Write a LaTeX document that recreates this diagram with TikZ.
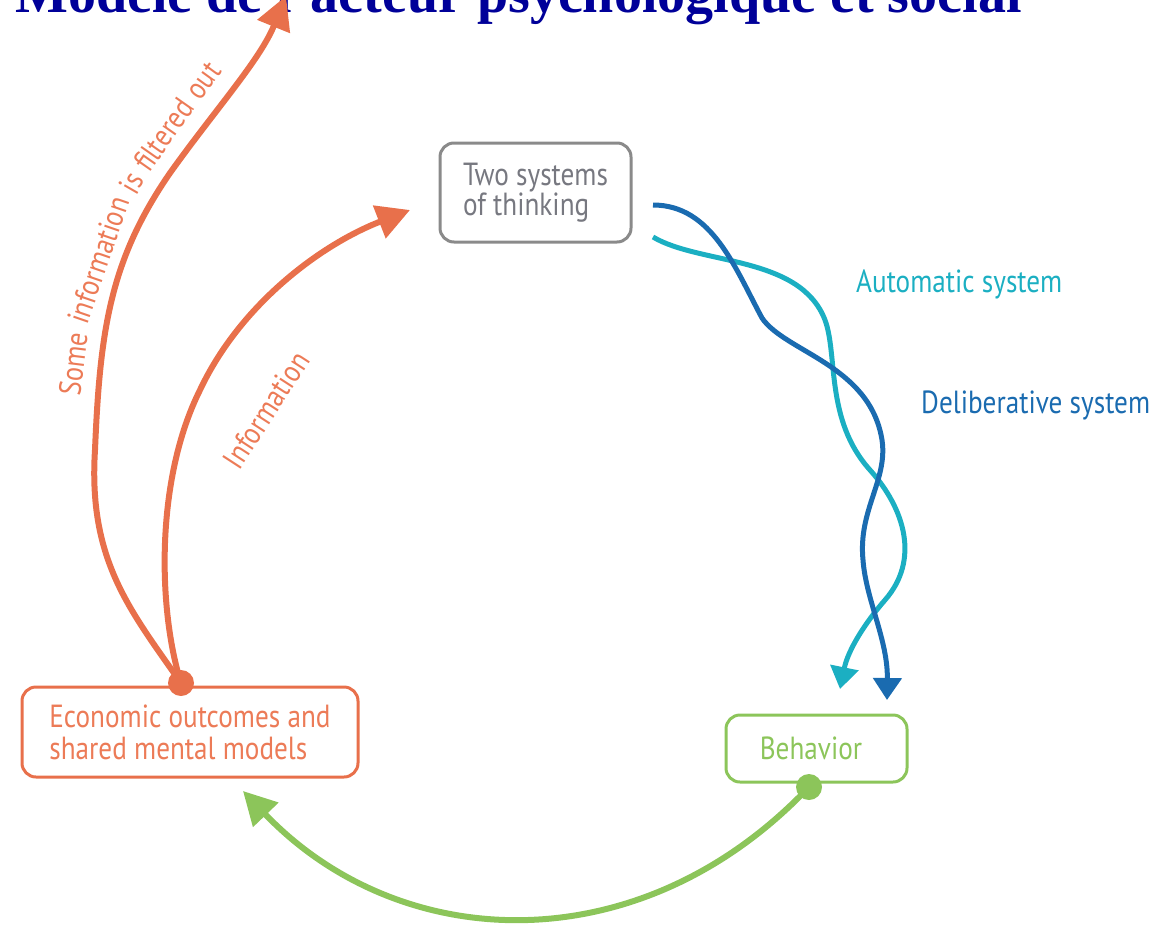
\documentclass[tikz,border=0pt]{standalone}
\usepackage{fontspec}
\setmainfont{Liberation Serif}
\newfontfamily\cond[FakeStretch=0.85]{PT Sans}
\usetikzlibrary{arrows.meta}
\definecolor{titleblue}{HTML}{000099}
\definecolor{orng}{HTML}{E8704B}
\definecolor{orngtext}{HTML}{EC7B57}
\definecolor{boxgray}{HTML}{8A8A8A}
\definecolor{textgray}{HTML}{777880}
\definecolor{grn}{HTML}{8CC55A}
\definecolor{teal}{HTML}{1BAFC2}
\definecolor{dblue}{HTML}{1A6BB0}
\tikzset{
  box/.style={draw, rounded corners=14pt, line width=3pt, inner sep=0pt, align=left,
    font=\cond\fontsize{32}{27}\selectfont},
  dot/.style={circle, inner sep=0pt, minimum size=26pt},
  bigarrow/.style={line width=6pt, -{Triangle[length=33pt,width=34pt]}},
  wavearrow/.style={line width=5pt, -{Triangle[length=22pt,width=28pt]}},
  lbl/.style={inner sep=0pt, font=\cond\fontsize{32}{32}\selectfont},
  olbl/.style={inner sep=0pt, anchor=base, text=orngtext, font=\cond\fontsize{31}{31}\selectfont}
}
\begin{document}
\begin{tikzpicture}[x=1pt,y=-1pt]
\useasboundingbox (0,0) rectangle (1169,924);
\clip (0,0) rectangle (1169,924);
% title
\node[anchor=base west, inner sep=0pt, text=titleblue,
  font=\bfseries\fontsize{56}{56}\selectfont] (title) at (15,12) {Modèle de l'acteur psychologique et social};
% boxes
\node[box, draw=boxgray, text=textgray, minimum width=191pt, minimum height=99pt] (two) at (535.5,192.5) {Two systems\\of thinking};
\node[box, draw=orng, text=orngtext, minimum width=336pt, minimum height=90pt,
  font=\cond\fontsize{32}{32}\selectfont] (eco) at (190,732) {Economic outcomes and\\shared mental models};
\node[box, draw=grn, text=grn, minimum width=181pt, minimum height=67pt] (beh) at (816.5,748.5) {\hspace*{-11pt}Behavior};
% dots
\node[dot, fill=orng] (odot) at (181,683) {};
\node[dot, fill=grn] (gdot) at (809,787) {};
% free ends
\coordinate (ftip) at (286,-4);
\coordinate (itip) at (410,210);
\coordinate (gtip) at (243,791);
\coordinate (a0) at (653,237);
\coordinate (atip) at (840,689);
\coordinate (d0) at (653,205);
\coordinate (dtip) at (887,700);
% orange arrows
\draw[bigarrow, orng] (odot.center) .. controls (130,610) and (88,560) .. (95,450)
  .. controls (100,330) and (110,260) .. (170,173)
  .. controls (215,110) and (260,60) .. (ftip);
\draw[bigarrow, orng] (odot.center) .. controls (158,610) and (155,480) .. (200,390)
  .. controls (240,305) and (320,245) .. (itip);
% green arrow
\draw[bigarrow, grn] (gdot.center) .. controls (640,965) and (400,955) .. (gtip);
% waves
\draw[wavearrow, teal] (a0) .. controls (700,265) and (800,255) .. (825,320)
  .. controls (838,355) and (825,420) .. (870,470)
  .. controls (905,509) and (920,560) .. (885,600)
  .. controls (865,623) and (848,650) .. (atip);
\draw[wavearrow, dblue] (d0) .. controls (712,205) and (735,268) .. (762,318)
  .. controls (785,352) and (870,365) .. (882,440)
  .. controls (888,480) and (858,510) .. (863,560)
  .. controls (866,600) and (888,640) .. (dtip);
% labels
\node[olbl, rotate=83] (f1) at (84,365.5) {Some};
\node[olbl, rotate=71] (f2) at (108.5,263.5) {information};
\node[olbl, rotate=60] (f3) at (140.6,188.2) {is};
\node[olbl, rotate=55] (f4) at (172.3,141) {filtered};
\node[olbl, rotate=54] (f5) at (211.5,86.7) {out};
\node[lbl, rotate=57, text=orngtext, font=\cond\fontsize{31}{31}\selectfont] (infolab) at (266,410) {Information};
\node[lbl, anchor=base west, text=teal] (autolab) at (856,292) {Automatic system};
\node[lbl, anchor=base west, text=dblue] (delilab) at (921,413) {Deliberative system};
\end{tikzpicture}
\end{document}
